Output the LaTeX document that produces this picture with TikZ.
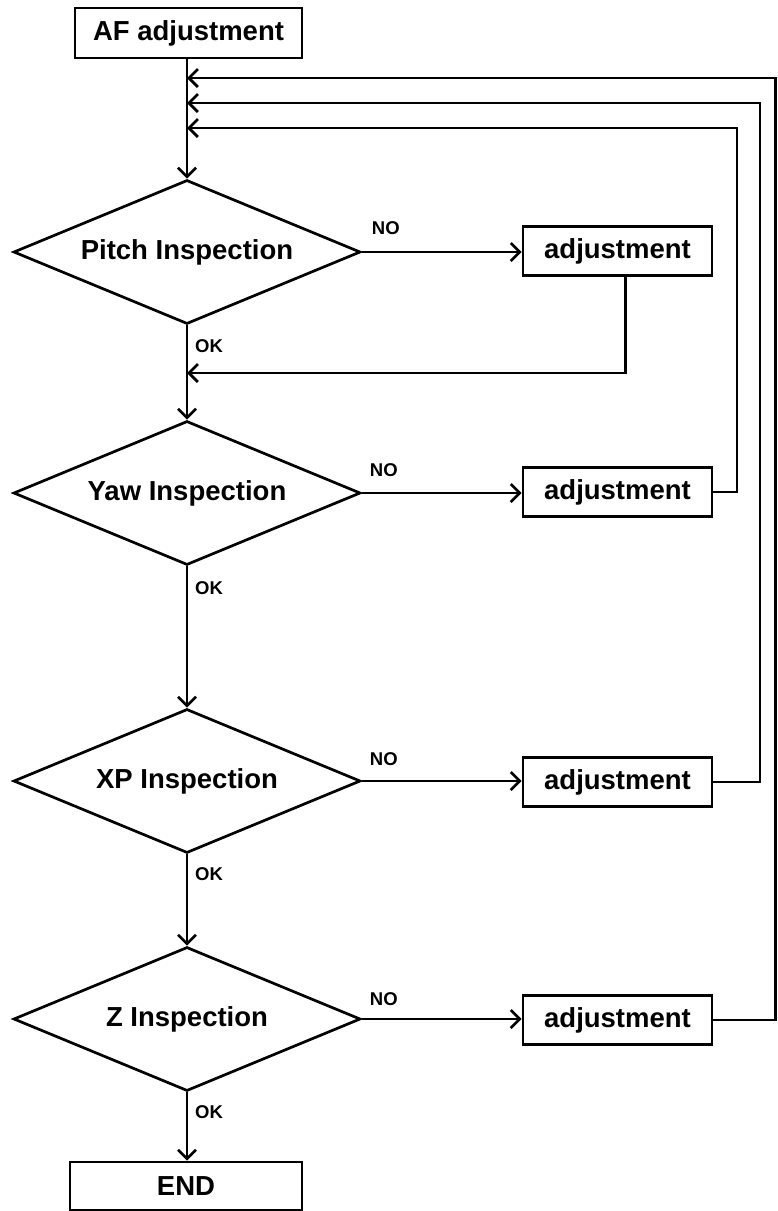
\documentclass[tikz,border=0pt]{standalone}
\usepackage{fontspec}
\setmainfont{Liberation Sans}
\usetikzlibrary{shapes.geometric,arrows.meta}
\begin{document}
\begin{tikzpicture}[x=1pt,y=-1pt,
  line width=2.7pt,
  big/.style={font=\bfseries\fontsize{27.5}{30}\selectfont},
  small/.style={font=\bfseries\fontsize{18.5}{20}\selectfont,inner sep=0pt},
  box/.style={draw,rectangle,big,inner sep=0pt,line width=2.7pt},
  adj/.style={box,minimum width=189pt,minimum height=49pt},
  dec/.style={draw,diamond,big,inner sep=0pt,shape aspect=2.4,minimum width=347pt,minimum height=144pt,line width=2.7pt},
  arr/.style={-{Straight Barb[length=9pt,width=18pt,line width=2.7pt]}}
]
\useasboundingbox (0,0) rectangle (777,1211);

\node[box,minimum width=227pt,minimum height=50pt] (af) at (188.5,33) {AF adjustment};
\node[dec] (d1) at (187,252) {Pitch Inspection};
\node[dec] (d2) at (187,493) {Yaw Inspection};
\node[dec] (d3) at (187,781) {XP Inspection};
\node[dec] (d4) at (187,1019) {Z Inspection};
\node[box,minimum width=232pt,minimum height=48pt] (end) at (186,1186) {END};

\node[adj] (a1) at (617.5,251) {adjustment};
\node[adj] (a2) at (617.5,492) {adjustment};
\node[adj] (a3) at (617.5,782) {adjustment};
\node[adj] (a4) at (617.5,1020) {adjustment};

% labels
\node[small] (no1) at ([xshift=24pt,yshift=24pt]d1.east) {NO};
\node[small] (no2) at ([xshift=22pt,yshift=23pt]d2.east) {NO};
\node[small] (no3) at ([xshift=22pt,yshift=22pt]d3.east) {NO};
\node[small] (no4) at ([xshift=22pt,yshift=20pt]d4.east) {NO};
\node[small] (ok1) at ([xshift=22pt,yshift=-21pt]d1.south) {OK};
\node[small] (ok2) at ([xshift=22pt,yshift=-22pt]d2.south) {OK};
\node[small] (ok3) at ([xshift=22pt,yshift=-20pt]d3.south) {OK};
\node[small] (ok4) at ([xshift=22pt,yshift=-20pt]d4.south) {OK};

% return points on the main line
\coordinate (r4) at (187,78);
\coordinate (r3) at (187,103);
\coordinate (r2) at (187,128);
\coordinate (r1) at (187,373);

% main flow
\draw[arr] (af.south -| d1.north) -- (d1.north);
\draw[arr] (d1.south) -- (d2.north);
\draw[arr] (d2.south) -- (d3.north);
\draw[arr] (d3.south) -- (d4.north);
\draw[arr] (d4.south) -- (d4.south |- end.north);

% NO branches
\draw[arr] (d1.east) -- (a1.west |- d1.east);
\draw[arr] (d2.east) -- (a2.west |- d2.east);
\draw[arr] (d3.east) -- (a3.west |- d3.east);
\draw[arr] (d4.east) -- (a4.west |- d4.east);

% loops back
\draw[arr] ([xshift=8pt]a1.south) |- (r1);
\draw[arr] (a2.east) -| (737,128) -- (r2);
\draw[arr] (a3.east) -| (760,103) -- (r3);
\draw[arr] (a4.east) -| (775.5,78) -- (r4);
\end{tikzpicture}
\end{document}
